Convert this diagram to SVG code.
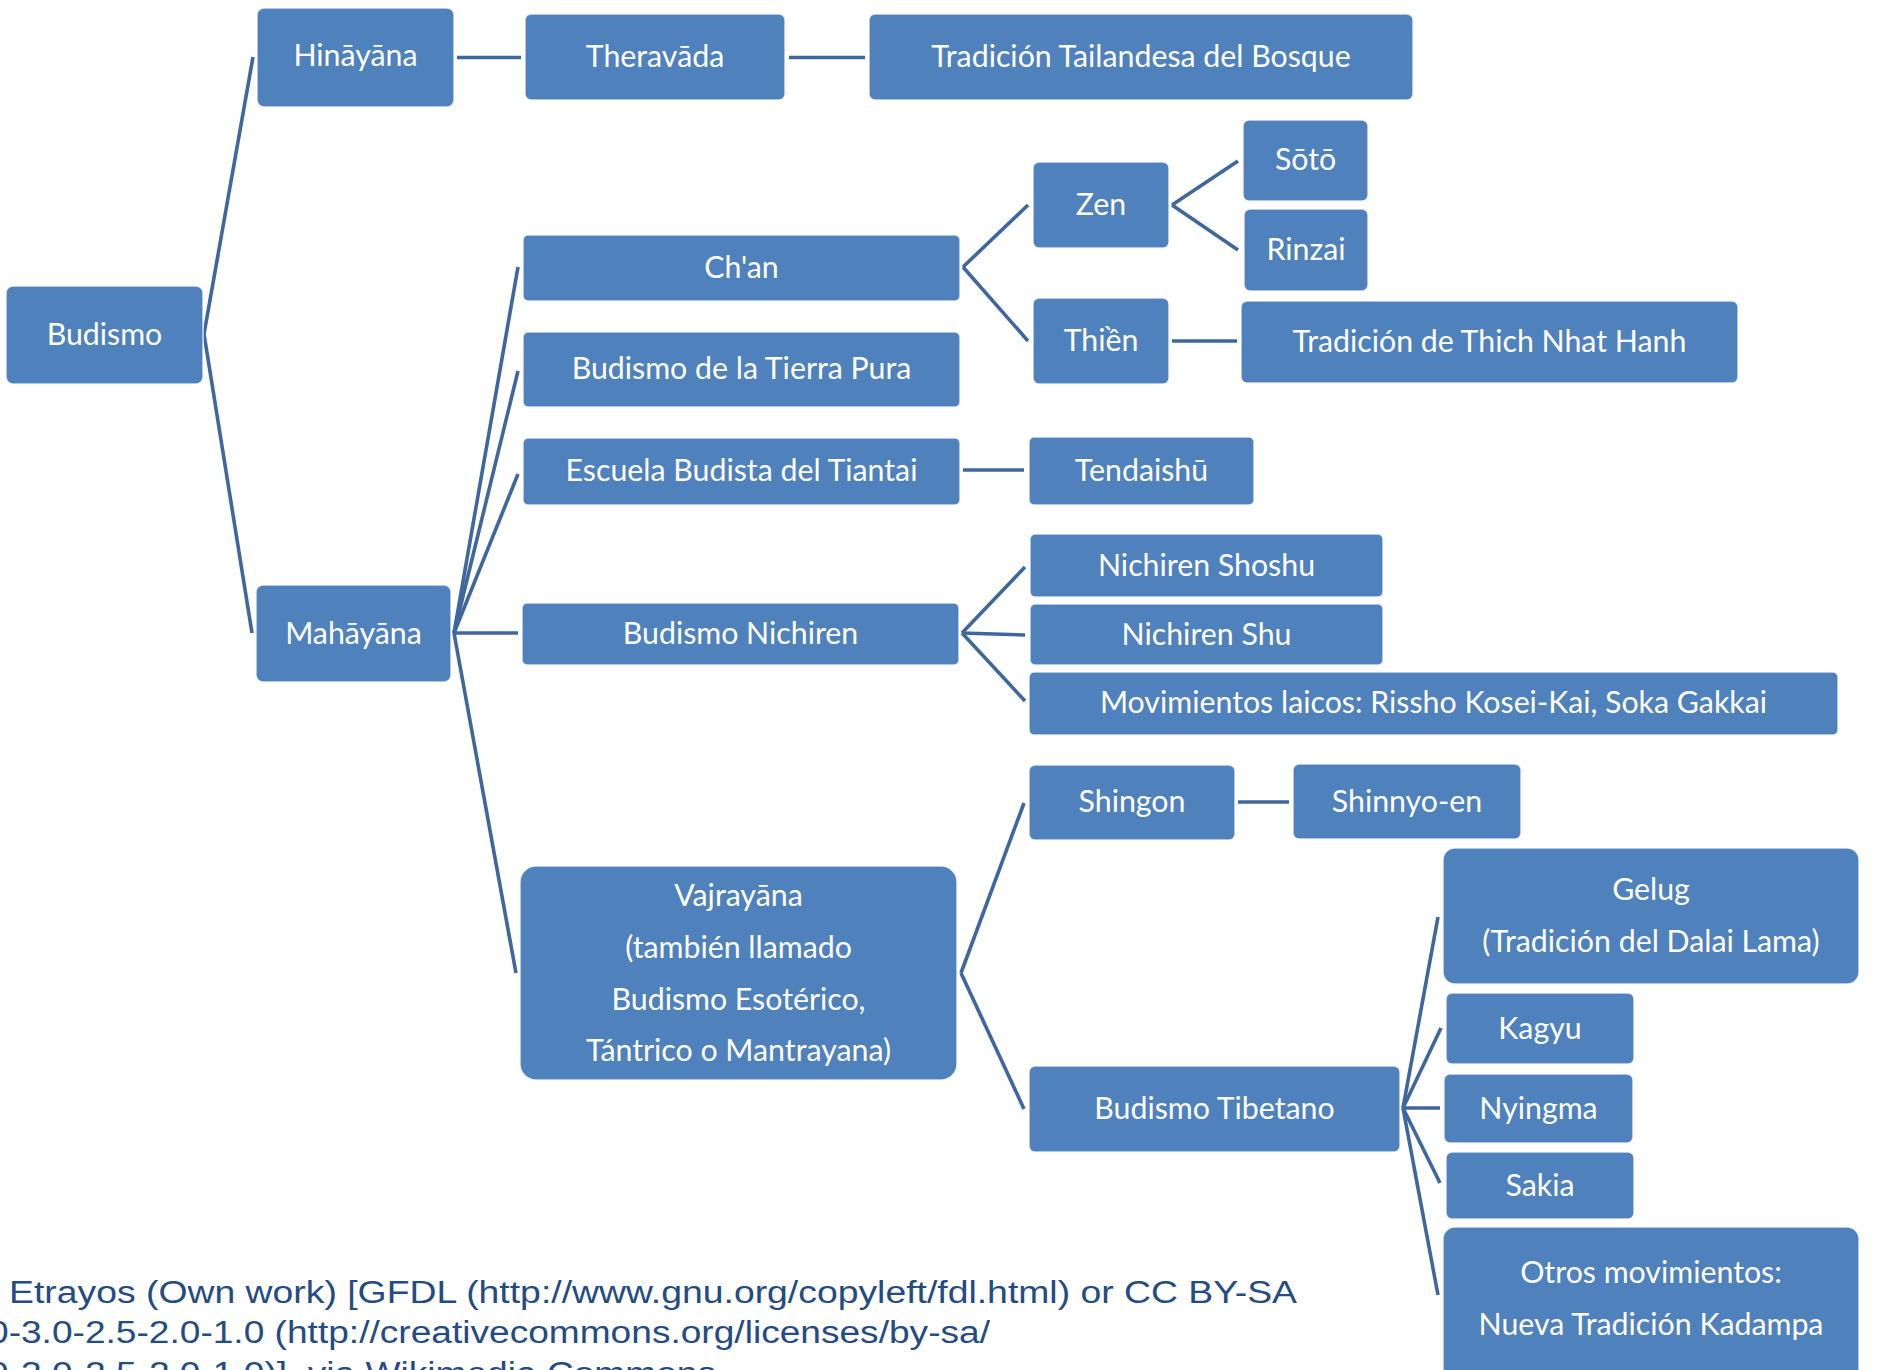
<svg xmlns="http://www.w3.org/2000/svg" width="1878" height="1370" viewBox="0 0 1878 1370">
<style>
.n rect{fill:#4F81BD;stroke:#ffffff;stroke-opacity:0.75;stroke-width:1.5}
.n text{font-family:Lato,"Open Sans","DejaVu Sans",sans-serif;font-size:30.3px;fill:#ffffff;text-anchor:middle}
#connectors line{stroke:#3F679D;stroke-width:3.6;stroke-linecap:butt}
.credit{font-family:"Liberation Sans",Arial,sans-serif;font-size:31px;fill:#244B82}
</style>
<rect width="1878" height="1370" fill="#ffffff"/>
<g id="connectors">
<line x1="204" y1="334" x2="253" y2="57"/>
<line x1="204" y1="334" x2="252" y2="633"/>
<line x1="457" y1="57.5" x2="521" y2="57.5"/>
<line x1="789" y1="57.5" x2="865" y2="57.5"/>
<line x1="454" y1="633" x2="518" y2="267"/>
<line x1="454" y1="633" x2="518" y2="371"/>
<line x1="454" y1="633" x2="518" y2="474"/>
<line x1="454" y1="633" x2="518" y2="633"/>
<line x1="454" y1="633" x2="516" y2="973"/>
<line x1="963" y1="267" x2="1028" y2="205"/>
<line x1="963" y1="267" x2="1028" y2="341"/>
<line x1="1172" y1="205" x2="1238" y2="161"/>
<line x1="1172" y1="205" x2="1238" y2="250"/>
<line x1="1172" y1="341" x2="1237" y2="341"/>
<line x1="963" y1="470" x2="1024" y2="470"/>
<line x1="962" y1="633" x2="1025" y2="567"/>
<line x1="962" y1="633" x2="1025" y2="635"/>
<line x1="962" y1="633" x2="1025" y2="701"/>
<line x1="961" y1="973" x2="1024" y2="803"/>
<line x1="961" y1="973" x2="1024" y2="1109"/>
<line x1="1238" y1="802" x2="1289" y2="802"/>
<line x1="1403" y1="1108" x2="1438" y2="917"/>
<line x1="1403" y1="1108" x2="1441" y2="1028"/>
<line x1="1403" y1="1108" x2="1440" y2="1108"/>
<line x1="1403" y1="1108" x2="1440" y2="1183"/>
<line x1="1403" y1="1108" x2="1438" y2="1295"/>
</g>
<g id="budismo" class="n"><rect x="6" y="286" width="197" height="98" rx="7"/><text x="104.5" y="345">Budismo</text></g>
<g id="hinayana" class="n"><rect x="257" y="8" width="197" height="99" rx="7"/><text x="355.5" y="66">Hināyāna</text></g>
<g id="theravada" class="n"><rect x="525" y="14" width="260" height="86" rx="6"/><text x="655" y="67">Theravāda</text></g>
<g id="tailandesa" class="n"><rect x="869" y="14" width="544" height="86" rx="6"/><text x="1141" y="67">Tradición Tailandesa del Bosque</text></g>
<g id="chan" class="n"><rect x="523" y="235" width="437" height="66" rx="5"/><text x="741.5" y="278">Ch'an</text></g>
<g id="tierrapura" class="n"><rect x="523" y="332" width="437" height="75" rx="5"/><text x="741.5" y="379">Budismo de la Tierra Pura</text></g>
<g id="tiantai" class="n"><rect x="523" y="438" width="437" height="67" rx="5"/><text x="741.5" y="481">Escuela Budista del Tiantai</text></g>
<g id="mahayana" class="n"><rect x="256" y="585" width="195" height="97" rx="7"/><text x="353.5" y="644">Mahāyāna</text></g>
<g id="nichiren" class="n"><rect x="522" y="603" width="437" height="62" rx="5"/><text x="740.5" y="644">Budismo Nichiren</text></g>
<g id="vajrayana" class="n"><rect x="520" y="866" width="437" height="214" rx="16"/><text x="738.5" y="906">Vajrayāna</text><text x="738.5" y="958">(también llamado</text><text x="738.5" y="1010">Budismo Esotérico,</text><text x="738.5" y="1061">Tántrico o Mantrayana)</text></g>
<g id="zen" class="n"><rect x="1033" y="162" width="136" height="86" rx="6"/><text x="1101" y="215">Zen</text></g>
<g id="thien" class="n"><rect x="1033" y="298" width="136" height="86" rx="6"/><text x="1101" y="351">Thiền</text></g>
<g id="soto" class="n"><rect x="1243" y="120" width="125" height="81" rx="6"/><text x="1305.5" y="170">Sōtō</text></g>
<g id="rinzai" class="n"><rect x="1244" y="209" width="124" height="82" rx="6"/><text x="1306" y="260">Rinzai</text></g>
<g id="thichnhathanh" class="n"><rect x="1241" y="301" width="497" height="82" rx="6"/><text x="1489.5" y="352">Tradición de Thich Nhat Hanh</text></g>
<g id="tendaishu" class="n"><rect x="1029" y="437" width="225" height="68" rx="5"/><text x="1141.5" y="481">Tendaishū</text></g>
<g id="nichirenshoshu" class="n"><rect x="1030" y="534" width="353" height="63" rx="5"/><text x="1206.5" y="576">Nichiren Shoshu</text></g>
<g id="nichirenshu" class="n"><rect x="1030" y="604" width="353" height="61" rx="5"/><text x="1206.5" y="645">Nichiren Shu</text></g>
<g id="movimientos" class="n"><rect x="1029" y="672" width="809" height="63" rx="5"/><text x="1433.5" y="713">Movimientos laicos: Rissho Kosei-Kai, Soka Gakkai</text></g>
<g id="shingon" class="n"><rect x="1029" y="765" width="206" height="75" rx="6"/><text x="1132" y="812">Shingon</text></g>
<g id="shinnyoen" class="n"><rect x="1293" y="764" width="228" height="75" rx="6"/><text x="1407" y="812">Shinnyo-en</text></g>
<g id="gelug" class="n"><rect x="1443" y="848" width="416" height="136" rx="12"/><text x="1651" y="900">Gelug</text><text x="1651" y="952">(Tradición del Dalai Lama)</text></g>
<g id="kagyu" class="n"><rect x="1446" y="993" width="188" height="71" rx="6"/><text x="1540" y="1039">Kagyu</text></g>
<g id="nyingma" class="n"><rect x="1444" y="1074" width="189" height="69" rx="6"/><text x="1538.5" y="1119">Nyingma</text></g>
<g id="sakia" class="n"><rect x="1446" y="1152" width="188" height="67" rx="6"/><text x="1540" y="1196">Sakia</text></g>
<g id="otros" class="n"><rect x="1443" y="1227" width="416" height="155" rx="12"/><text x="1651" y="1283">Otros movimientos:</text><text x="1651" y="1335">Nueva Tradición Kadampa</text></g>
<g id="tibetano" class="n"><rect x="1029" y="1066" width="371" height="86" rx="6"/><text x="1214.5" y="1119">Budismo Tibetano</text></g>
<g id="credit">
<text class="credit" x="9" y="1303" textLength="1288" lengthAdjust="spacingAndGlyphs">Etrayos (Own work) [GFDL (http://www.gnu.org/copyleft/fdl.html) or CC BY-SA</text>
<text class="credit" x="-12" y="1342.5" textLength="1002" lengthAdjust="spacingAndGlyphs">0-3.0-2.5-2.0-1.0 (http://creativecommons.org/licenses/by-sa/</text>
<text class="credit" x="-12" y="1384" textLength="728" lengthAdjust="spacingAndGlyphs">0-3.0-2.5-2.0-1.0)], via Wikimedia Commons</text>
</g>
</svg>
